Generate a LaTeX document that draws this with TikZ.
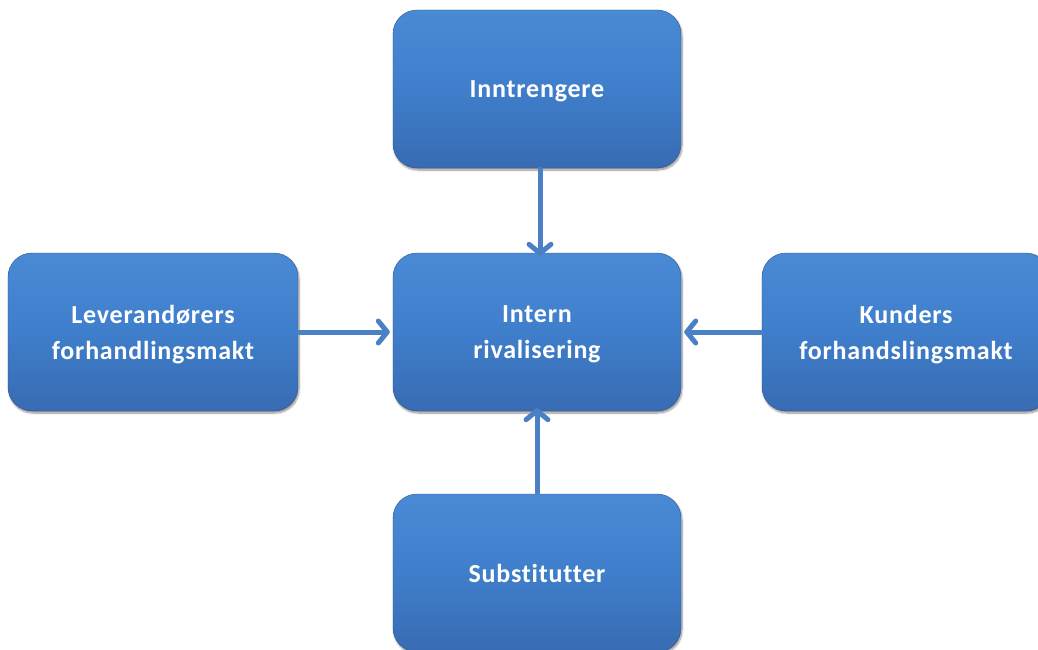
\documentclass[tikz,border=0pt]{standalone}
\usepackage{fontspec}
\setmainfont[LetterSpace=3,Ligatures=NoCommon]{Carlito}
\usetikzlibrary{shadows.blur,arrows.meta}
\definecolor{boxtop}{HTML}{4A8AD5}
\definecolor{boxmid}{HTML}{3F7ECB}
\definecolor{boxbot}{HTML}{386BB3}
\definecolor{arrowblue}{HTML}{4A80C4}
\tikzset{
  force/.style={rounded corners=24pt, minimum width=288pt, minimum height=158pt,
    top color=boxtop, bottom color=boxbot, middle color=boxmid,
    draw=boxbot!80!black, line width=0.4pt,
    blur shadow={shadow xshift=1pt, shadow yshift=-2pt, shadow blur steps=8, shadow opacity=45},
    text=white, align=center, font=\fontsize{26}{36}\selectfont\bfseries,
    inner sep=0pt, text depth=-6pt},
  push/.style={draw=arrowblue, line width=5pt, line cap=round,
    -{Straight Barb[length=9pt, width=22pt, line width=5pt, round]}}
}
\begin{document}
\begin{tikzpicture}[x=1pt, y=-1pt]
\useasboundingbox (0,0) rectangle (1038,650);
\node[force] (top) at (537,89) {Inntrengere};
\node[force] (mid) at (537,332) {Intern\\rivalisering};
\node[force, minimum width=290pt] (left) at (153,332) {Leverandørers\\forhandlingsmakt};
\node[force] (right) at (906,332) {Kunders\\forhandslingsmakt};
\node[force] (bot) at (537,573) {Substitutter};
\draw[push] ([yshift=-1pt]top.south -| 540,0) -- ([yshift=-3pt]mid.north -| 540,0);
\draw[push] ([xshift=1pt]left.east) -- ([xshift=-3pt]mid.west);
\draw[push] ([xshift=-1pt]right.west) -- ([xshift=3pt]mid.east);
\draw[push] ([yshift=1pt]bot.north -| 537,0) -- ([yshift=3pt]mid.south -| 537,0);
\end{tikzpicture}
\end{document}
